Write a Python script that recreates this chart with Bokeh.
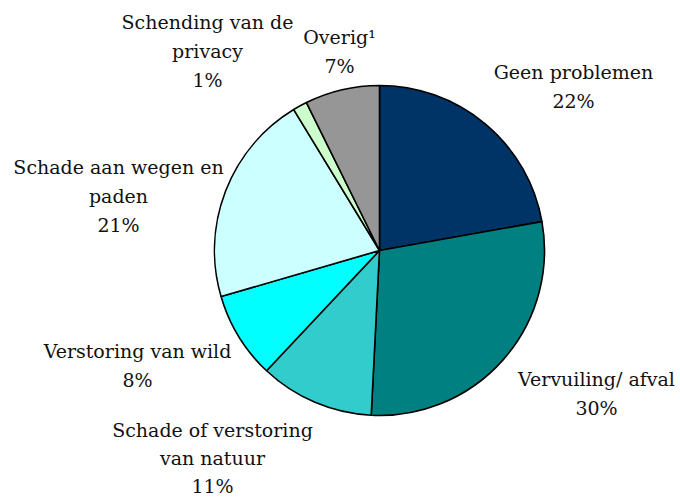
import math
from bokeh.plotting import figure
from bokeh.models import Range1d, ColumnDataSource
from bokeh.core.properties import value
from bokeh.embed import file_html
from bokeh.resources import INLINE

# Data (clockwise from 12 o'clock)
categories = ["Geen problemen", "Vervuiling/ afval", "Schade of verstoring van natuur",
              "Verstoring van wild", "Schade aan wegen en paden",
              "Schending van de privacy", "Overig"]
shares = [22.2, 28.6, 11.2, 8.5, 20.8, 1.4, 7.3]          # slice sizes as drawn
pct_labels = ["22%", "30%", "11%", "8%", "21%", "1%", "7%"]  # labels as printed
colors = ["#003366", "#008080", "#33CCCC", "#00FFFF", "#CCFFFF", "#CCFFCC", "#969696"]

# label text lines (name lines) per category
label_lines = [
    ["Geen problemen"],
    ["Vervuiling/ afval"],
    ["Schade of verstoring", "van natuur"],
    ["Verstoring van wild"],
    ["Schade aan wegen en", "paden"],
    ["Schending van de", "privacy"],
    ["Overig\u00b9"],
]
# layout: pixel position of first line centre, line step
label_pos = [(573, 71), (596, 378), (212, 429), (137, 350), (118, 166), (207, 21), (339, 36)]
LINE = 29
LINE_BOTTOM = 28  # slightly tighter for the bottom label so it stays inside

W, H = 680, 498
p = figure(width=W, height=H, output_backend="svg", toolbar_location=None,
           x_range=Range1d(0, W), y_range=Range1d(0, H), min_border=0)
p.axis.visible = False
p.grid.visible = False
p.outline_line_color = None
p.background_fill_color = "white"


def py(y):
    return H - y


cx, cy, r = 379, py(250), 165
total = sum(shares)
starts, ends = [], []
cum = 0.0
for s in shares:
    starts.append(math.pi / 2 - 2 * math.pi * cum / total)
    cum += s
    ends.append(math.pi / 2 - 2 * math.pi * cum / total)

src = ColumnDataSource(dict(x=[cx] * len(shares), y=[cy] * len(shares),
                            start=starts, end=ends, color=colors))
p.wedge(x="x", y="y", radius=r, start_angle="start", end_angle="end",
        direction="clock", fill_color="color", line_color="black", line_width=1.6,
        source=src)

tx, ty, tt = [], [], []
for k, (lines, pct, (x0, y0)) in enumerate(zip(label_lines, pct_labels, label_pos)):
    step = LINE_BOTTOM if k == 2 else LINE
    for i, t in enumerate(lines + [pct]):
        tx.append(x0)
        ty.append(py(y0 + i * step))
        tt.append(t)

p.text(x=tx, y=ty, text=tt, text_align="center", text_baseline="middle",
       text_font=value("DejaVu Serif"), text_font_size="19px", text_color="#111111")

open("out.html", "w").write(file_html(p, INLINE))
